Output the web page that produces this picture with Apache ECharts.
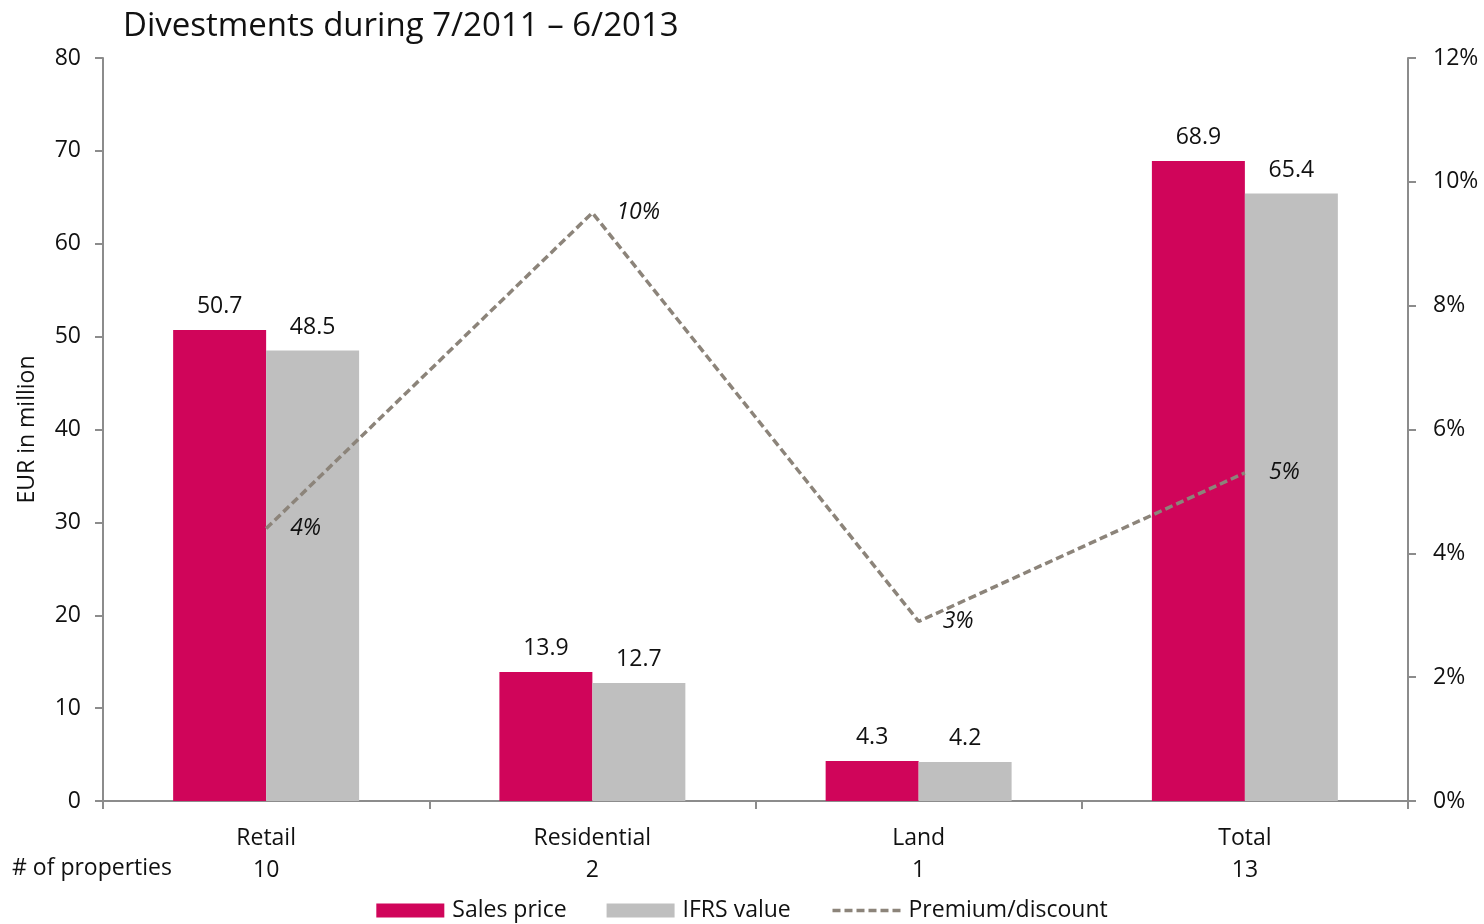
<!DOCTYPE html>
<html>
<head>
<meta charset="utf-8">
<script src="https://cdn.jsdelivr.net/npm/echarts@6/dist/echarts.min.js"></script>
<style>
  html, body { margin: 0; padding: 0; background: #fff; }
  #chart { width: 1484px; height: 924px; }
</style>
</head>
<body>
<div id="chart"></div>
<script>
// Divestments by segment, EUR million, with premium over IFRS value in percent
const categories = ['Retail', 'Residential', 'Land', 'Total'];
const propertyCounts = [10, 2, 1, 13];
const salesPrice = [50.7, 13.9, 4.3, 68.9];
const ifrsValue = [48.5, 12.7, 4.2, 65.4];
const premiumPct = [4.4, 9.5, 2.9, 5.3];
const leftTicks = { min: 0, max: 80, interval: 10 };
const rightTicks = { min: 0, max: 12, interval: 2 };

const FONT = '"Open Sans", "Noto Sans", sans-serif';
const AXIS_COLOR = '#8c8c8c';
const TEXT_COLOR = '#111';
const LINE_COLOR = '#8c847a';
const FS = 23;

const chart = echarts.init(document.getElementById('chart'));

chart.setOption({
  animation: false,
  textStyle: { fontFamily: FONT, color: TEXT_COLOR },
  title: {
    text: 'Divestments during 7/2011 – 6/2013',
    left: 118, top: 5,
    textStyle: { fontFamily: FONT, fontSize: 33, fontWeight: 'normal', color: TEXT_COLOR }
  },
  grid: { left: 103, right: 76, top: 58, bottom: 123 },
  legend: {
    top: 894, left: 'center',
    itemWidth: 68, itemHeight: 14, itemGap: 40,
    textStyle: { fontFamily: FONT, fontSize: FS, color: TEXT_COLOR, padding: [0, 0, 0, 3] },
    data: [
      { name: 'Sales price', icon: 'rect' },
      { name: 'IFRS value', icon: 'rect' },
      { name: 'Premium/discount', itemStyle: { opacity: 0 }, lineStyle: { width: 3.5, type: [8, 4] } }
    ]
  },
  xAxis: {
    type: 'category',
    data: categories,
    axisLine: { lineStyle: { color: AXIS_COLOR, width: 2 } },
    axisTick: { show: true, length: 8, lineStyle: { color: AXIS_COLOR, width: 2 } },
    axisLabel: {
      margin: 21, fontSize: FS, lineHeight: 32, color: TEXT_COLOR, fontFamily: FONT,
      formatter: (v, i) => v + '\n' + propertyCounts[i]
    }
  },
  yAxis: [
    {
      type: 'value', ...leftTicks,
      name: 'EUR in million', nameLocation: 'middle', nameGap: 64, nameRotate: 90,
      nameTextStyle: { fontFamily: FONT, fontSize: FS, color: TEXT_COLOR },
      axisLine: { show: true, lineStyle: { color: AXIS_COLOR, width: 2 } },
      axisTick: { show: true, length: 8, lineStyle: { color: AXIS_COLOR, width: 2 } },
      axisLabel: { fontSize: FS, margin: 22, color: TEXT_COLOR, fontFamily: FONT },
      splitLine: { show: false }
    },
    {
      type: 'value', ...rightTicks,
      position: 'right',
      axisLine: { show: true, lineStyle: { color: AXIS_COLOR, width: 2 } },
      axisTick: { show: true, length: 8, lineStyle: { color: AXIS_COLOR, width: 2 } },
      axisLabel: { fontSize: FS, margin: 25, color: TEXT_COLOR, fontFamily: FONT, formatter: '{value}%' },
      splitLine: { show: false }
    }
  ],
  series: [
    {
      name: 'Sales price', type: 'bar', data: salesPrice,
      barGap: '0%', barCategoryGap: '43%',
      itemStyle: { color: '#d0055a' },
      label: { show: true, position: 'top', distance: 12, fontSize: FS, color: TEXT_COLOR, fontFamily: FONT }
    },
    {
      name: 'IFRS value', type: 'bar', data: ifrsValue,
      itemStyle: { color: '#bfbfbf' },
      label: { show: true, position: 'top', distance: 12, fontSize: FS, color: TEXT_COLOR, fontFamily: FONT }
    },
    {
      name: 'Premium/discount', type: 'line', yAxisIndex: 1, data: premiumPct,
      symbol: 'circle', symbolSize: 0.1, showSymbol: true, showAllSymbol: true, z: 5,
      lineStyle: { color: LINE_COLOR, width: 3.5, type: [8, 4] },
      itemStyle: { color: LINE_COLOR },
      label: {
        show: true, position: 'right', distance: 24,
        fontSize: FS, fontStyle: 'italic', color: TEXT_COLOR, fontFamily: FONT,
        formatter: p => Math.round(p.value) + '%'
      }
    }
  ],
  graphic: [
    {
      type: 'text', left: 12, top: 857,
      style: { text: '# of properties', font: FS + 'px ' + FONT, fill: TEXT_COLOR }
    }
  ]
});
</script>
</body>
</html>
